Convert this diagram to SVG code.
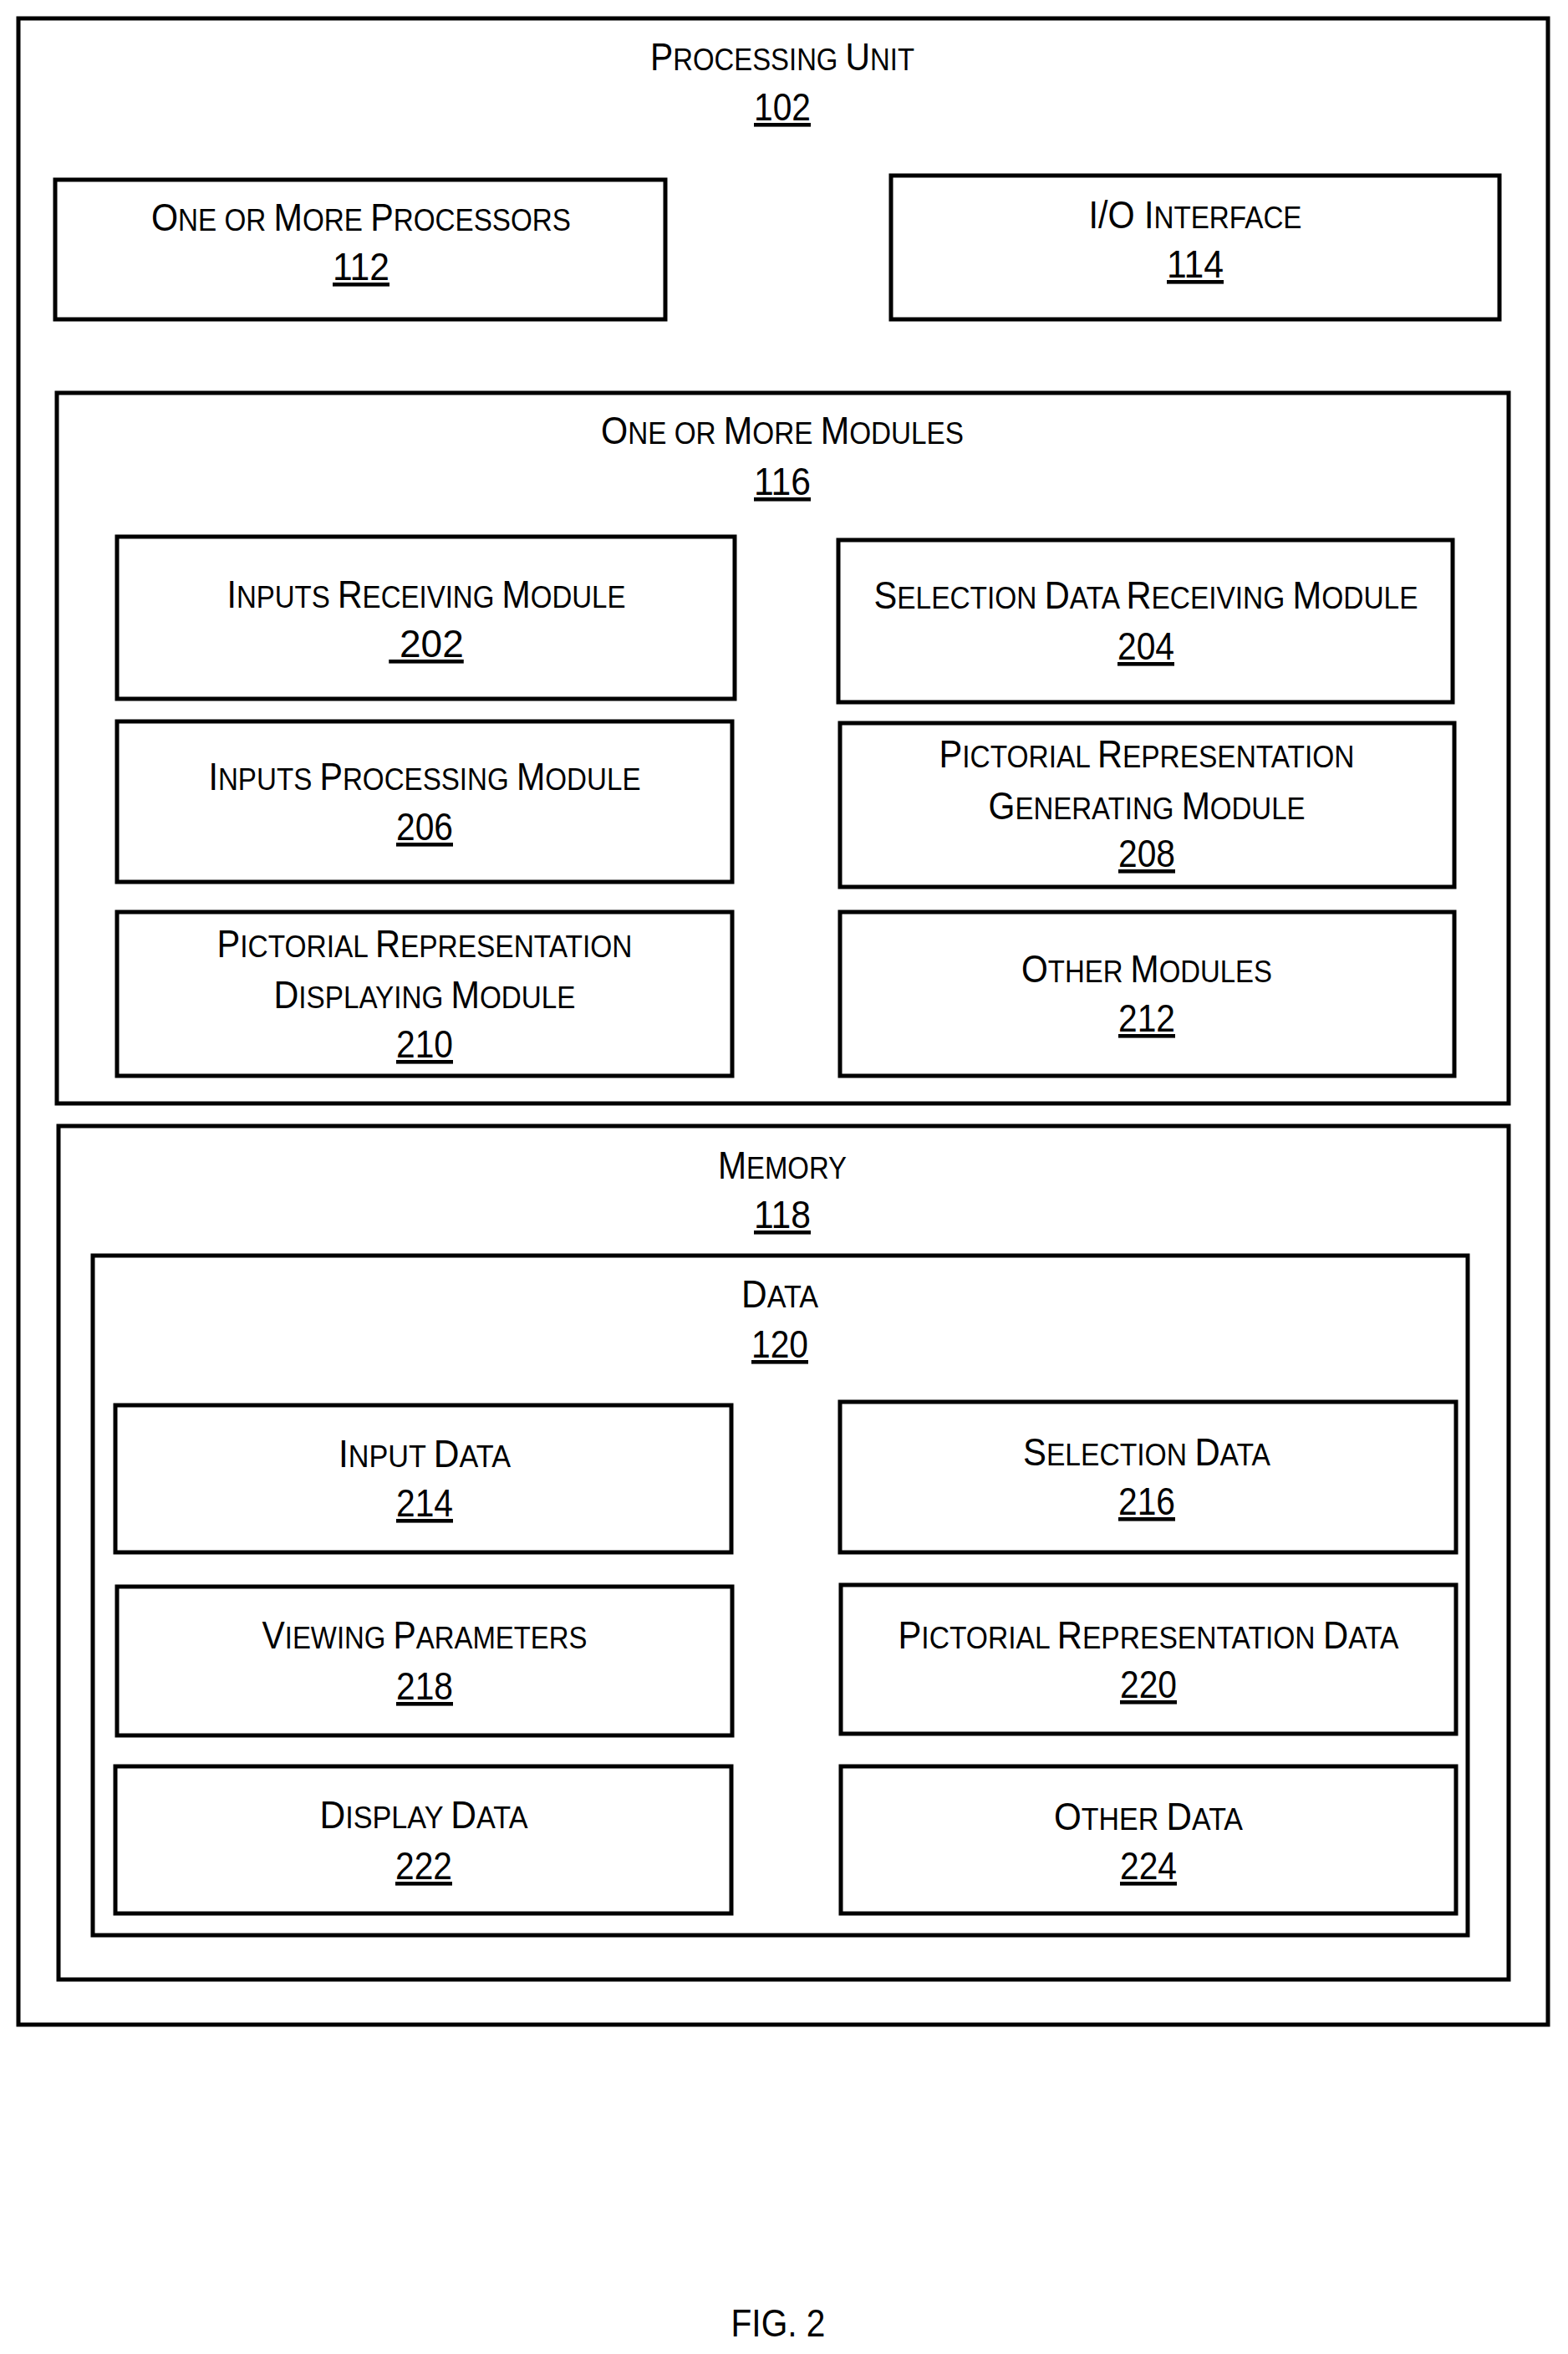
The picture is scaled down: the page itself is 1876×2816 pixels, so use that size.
<svg xmlns="http://www.w3.org/2000/svg" width="1876" height="2816" viewBox="0 0 1876 2816">
<style>
rect{fill:none;stroke:#000;stroke-width:5}
text{font-family:"Liberation Sans",Arial,sans-serif;font-size:46px;text-anchor:middle;fill:#000}
.s{font-size:37px}
.n{text-decoration:underline}
</style>
<rect width="1876" height="2816" style="fill:#fff;stroke:none"/>
<g id="n102"><rect x="22" y="22" width="1830" height="2400"/>
<text x="936" y="84" textLength="316" lengthAdjust="spacingAndGlyphs">P<tspan class="s">ROCESSING </tspan>U<tspan class="s">NIT</tspan></text>
<text class="n" x="936" y="144" textLength="68" lengthAdjust="spacingAndGlyphs">102</text></g>
<g id="n112"><rect x="66" y="215" width="730" height="167"/>
<text x="432" y="276" textLength="502" lengthAdjust="spacingAndGlyphs">O<tspan class="s">NE OR </tspan>M<tspan class="s">ORE </tspan>P<tspan class="s">ROCESSORS</tspan></text>
<text class="n" x="432" y="335" textLength="68" lengthAdjust="spacingAndGlyphs">112</text></g>
<g id="n114"><rect x="1066" y="210" width="728" height="172"/>
<text x="1430" y="273" textLength="255" lengthAdjust="spacingAndGlyphs">I/O I<tspan class="s">NTERFACE</tspan></text>
<text class="n" x="1430" y="332" textLength="68" lengthAdjust="spacingAndGlyphs">114</text></g>
<g id="n116"><rect x="68" y="470" width="1737" height="850"/>
<text x="936" y="531" textLength="434" lengthAdjust="spacingAndGlyphs">O<tspan class="s">NE OR </tspan>M<tspan class="s">ORE </tspan>M<tspan class="s">ODULES</tspan></text>
<text class="n" x="936" y="592" textLength="68" lengthAdjust="spacingAndGlyphs">116</text></g>
<g id="n202"><rect x="140" y="642" width="739" height="194"/>
<text x="510" y="727" textLength="477" lengthAdjust="spacingAndGlyphs">I<tspan class="s">NPUTS </tspan>R<tspan class="s">ECEIVING </tspan>M<tspan class="s">ODULE</tspan></text>
<text class="n" x="510" y="786" xml:space="preserve"> 202</text></g>
<g id="n204"><rect x="1003" y="646" width="735" height="194"/>
<text x="1371" y="728" textLength="651" lengthAdjust="spacingAndGlyphs">S<tspan class="s">ELECTION </tspan>D<tspan class="s">ATA </tspan>R<tspan class="s">ECEIVING </tspan>M<tspan class="s">ODULE</tspan></text>
<text class="n" x="1371" y="789" textLength="68" lengthAdjust="spacingAndGlyphs">204</text></g>
<g id="n206"><rect x="140" y="863" width="736" height="192"/>
<text x="508" y="945" textLength="517" lengthAdjust="spacingAndGlyphs">I<tspan class="s">NPUTS </tspan>P<tspan class="s">ROCESSING </tspan>M<tspan class="s">ODULE</tspan></text>
<text class="n" x="508" y="1005" textLength="68" lengthAdjust="spacingAndGlyphs">206</text></g>
<g id="n208"><rect x="1005" y="865" width="735" height="196"/>
<text x="1372" y="918" textLength="497" lengthAdjust="spacingAndGlyphs">P<tspan class="s">ICTORIAL </tspan>R<tspan class="s">EPRESENTATION</tspan></text>
<text x="1372" y="980" textLength="379" lengthAdjust="spacingAndGlyphs">G<tspan class="s">ENERATING </tspan>M<tspan class="s">ODULE</tspan></text>
<text class="n" x="1372" y="1037" textLength="68" lengthAdjust="spacingAndGlyphs">208</text></g>
<g id="n210"><rect x="140" y="1091" width="736" height="196"/>
<text x="508" y="1145" textLength="497" lengthAdjust="spacingAndGlyphs">P<tspan class="s">ICTORIAL </tspan>R<tspan class="s">EPRESENTATION</tspan></text>
<text x="508" y="1206" textLength="361" lengthAdjust="spacingAndGlyphs">D<tspan class="s">ISPLAYING </tspan>M<tspan class="s">ODULE</tspan></text>
<text class="n" x="508" y="1265" textLength="68" lengthAdjust="spacingAndGlyphs">210</text></g>
<g id="n212"><rect x="1005" y="1091" width="735" height="196"/>
<text x="1372" y="1175" textLength="300" lengthAdjust="spacingAndGlyphs">O<tspan class="s">THER </tspan>M<tspan class="s">ODULES</tspan></text>
<text class="n" x="1372" y="1234" textLength="68" lengthAdjust="spacingAndGlyphs">212</text></g>
<g id="n118"><rect x="70" y="1347" width="1735" height="1021"/>
<text x="936" y="1410" textLength="154" lengthAdjust="spacingAndGlyphs">M<tspan class="s">EMORY</tspan></text>
<text class="n" x="936" y="1469" textLength="68" lengthAdjust="spacingAndGlyphs">118</text></g>
<g id="n120"><rect x="111" y="1502" width="1645" height="813"/>
<text x="933" y="1564" textLength="92" lengthAdjust="spacingAndGlyphs">D<tspan class="s">ATA</tspan></text>
<text class="n" x="933" y="1624" textLength="68" lengthAdjust="spacingAndGlyphs">120</text></g>
<g id="n214"><rect x="138" y="1681" width="737" height="176"/>
<text x="508" y="1755" textLength="206" lengthAdjust="spacingAndGlyphs">I<tspan class="s">NPUT </tspan>D<tspan class="s">ATA</tspan></text>
<text class="n" x="508" y="1814" textLength="68" lengthAdjust="spacingAndGlyphs">214</text></g>
<g id="n216"><rect x="1005" y="1677" width="737" height="180"/>
<text x="1372" y="1753" textLength="296" lengthAdjust="spacingAndGlyphs">S<tspan class="s">ELECTION </tspan>D<tspan class="s">ATA</tspan></text>
<text class="n" x="1372" y="1812" textLength="68" lengthAdjust="spacingAndGlyphs">216</text></g>
<g id="n218"><rect x="140" y="1898" width="736" height="178"/>
<text x="508" y="1972" textLength="389" lengthAdjust="spacingAndGlyphs">V<tspan class="s">IEWING </tspan>P<tspan class="s">ARAMETERS</tspan></text>
<text class="n" x="508" y="2033" textLength="68" lengthAdjust="spacingAndGlyphs">218</text></g>
<g id="n220"><rect x="1006" y="1896" width="736" height="178"/>
<text x="1374" y="1972" textLength="599" lengthAdjust="spacingAndGlyphs">P<tspan class="s">ICTORIAL </tspan>R<tspan class="s">EPRESENTATION </tspan>D<tspan class="s">ATA</tspan></text>
<text class="n" x="1374" y="2031" textLength="68" lengthAdjust="spacingAndGlyphs">220</text></g>
<g id="n222"><rect x="138" y="2113" width="737" height="176"/>
<text x="507" y="2187" textLength="249" lengthAdjust="spacingAndGlyphs">D<tspan class="s">ISPLAY </tspan>D<tspan class="s">ATA</tspan></text>
<text class="n" x="507" y="2248" textLength="68" lengthAdjust="spacingAndGlyphs">222</text></g>
<g id="n224"><rect x="1006" y="2113" width="736" height="176"/>
<text x="1374" y="2189" textLength="226" lengthAdjust="spacingAndGlyphs">O<tspan class="s">THER </tspan>D<tspan class="s">ATA</tspan></text>
<text class="n" x="1374" y="2248" textLength="68" lengthAdjust="spacingAndGlyphs">224</text></g>
<g id="connectors"></g>
<text x="931" y="2795" textLength="113" lengthAdjust="spacingAndGlyphs">FIG. 2</text>
</svg>
